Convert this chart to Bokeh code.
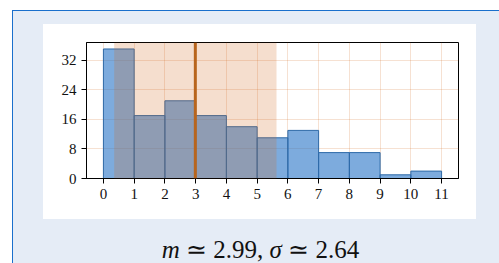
from bokeh.plotting import figure
from bokeh.models import (Range1d, FixedTicker, BoxAnnotation, Span, Div)
from bokeh.layouts import column, row
from bokeh.embed import file_html
from bokeh.resources import INLINE

# ---- data ----
bin_edges = [0, 1, 2, 3, 4, 5, 6, 7, 8, 9, 10, 11]
counts = [35, 17, 21, 17, 14, 11, 13, 7, 7, 1, 2]
mean_val = 2.99
std_val = 2.64
x_ticks = [0, 1, 2, 3, 4, 5, 6, 7, 8, 9, 10, 11]
y_ticks = [0, 8, 16, 24, 32]

BOX_BG = "#e5ecf6"
BORDER = "#1a6fcc"
ORANGE = "#d2691e"
SERIF = "Liberation Serif"

p = figure(width=433, height=195, output_backend="svg", toolbar_location=None,
           x_range=Range1d(-0.55, 11.55), y_range=Range1d(0, 36.75),
           min_border_left=43, min_border_right=18, min_border_top=18,
           min_border_bottom=41, margin=0)
p.border_fill_color = "white"
p.background_fill_color = "white"
p.outline_line_color = "black"
p.outline_line_width = 1

p.quad(left=bin_edges[:-1], right=bin_edges[1:], bottom=0, top=counts,
       fill_color="#2773c7", fill_alpha=0.6, line_color="#2e6aa8", line_width=1)

band = BoxAnnotation(left=mean_val - std_val, right=mean_val + std_val,
                     fill_color=ORANGE, fill_alpha=0.22, line_color=None)
p.add_layout(band)
p.add_layout(Span(location=mean_val, dimension="height", line_color="#b8651d",
                  line_width=3))

for ax in (p.xaxis[0], p.yaxis[0]):
    ax.axis_line_color = "black"
    ax.major_tick_line_color = "black"
    ax.minor_tick_line_color = None
    ax.major_tick_in = 0
    ax.major_tick_out = 5
    ax.major_label_text_font = SERIF
    ax.major_label_text_font_size = "15px"
    ax.major_label_text_color = "#111111"
    ax.major_label_standoff = 5
p.xaxis.ticker = FixedTicker(ticks=x_ticks)
p.yaxis.ticker = FixedTicker(ticks=y_ticks)

p.xgrid.ticker = FixedTicker(ticks=x_ticks)
p.ygrid.ticker = FixedTicker(ticks=y_ticks)
p.grid.grid_line_color = ORANGE
p.grid.grid_line_alpha = 0.2
p.grid.grid_line_width = 1


def block(w, h, color):
    return Div(text="", width=w, height=h, margin=0,
               styles={"background-color": color})


caption = Div(
    text=f"<i>m</i> &#8771; {mean_val:.2f}, <i>&sigma;</i> &#8771; {std_val:.2f}",
    width=486, height=44, margin=0,
    styles={"background-color": BOX_BG, "font-family": SERIF, "font-size": "25px",
            "line-height": "62px", "text-align": "center", "color": "#111111",
            "text-indent": "9px", "white-space": "nowrap"})

content = column(
    block(486, 13, BOX_BG),
    row(block(30, 195, BOX_BG), p, block(23, 195, BOX_BG), spacing=0, margin=0),
    caption, spacing=0, margin=0,
)
box = column(
    block(487, 1, BORDER),
    row(block(1, 252, BORDER), content, spacing=0, margin=0),
    spacing=0, margin=0,
)
page = column(
    block(499, 10, "white"),
    row(block(12, 253, "white"), box, spacing=0, margin=0),
    spacing=0, margin=0,
)

open("out.html", "w").write(file_html(page, INLINE))
